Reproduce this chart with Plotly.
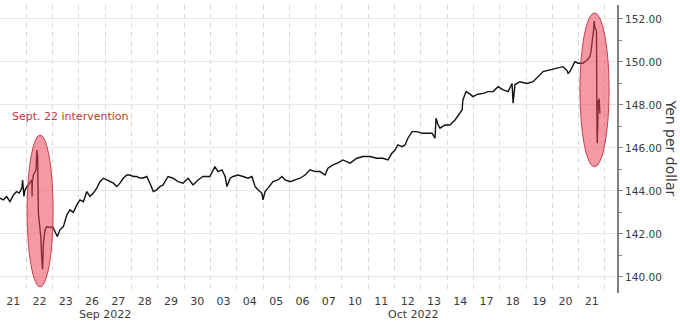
import plotly.graph_objects as go

# ---- data ----
day_labels = ["21", "22", "23", "26", "27", "28", "29", "30", "03", "04", "05", "06",
              "07", "10", "11", "12", "13", "14", "17", "18", "19", "20", "21"]
day_months = ["Sep"] * 8 + ["Oct"] * 15
month_names = {"Sep": "Sep 2022", "Oct": "Oct 2022"}

# time in trading days since start of Sep 21 session
t_days = [0.00, 0.13, 0.25, 0.38, 0.51, 0.63, 0.73, 0.83, 0.86, 0.91, 0.95,
          1.08, 1.21, 1.22, 1.23, 1.27, 1.37, 1.40, 1.43, 1.46, 1.49, 1.55, 1.59,
          1.62, 1.65, 1.71, 1.78, 1.90, 2.00, 2.09, 2.18, 2.28, 2.41, 2.54, 2.66,
          2.79, 2.92, 3.04, 3.17, 3.30, 3.42, 3.55, 3.68, 3.80, 3.93, 4.06, 4.18,
          4.31, 4.44, 4.56, 4.69, 4.82, 4.94, 5.07, 5.20, 5.32, 5.45, 5.58, 5.70,
          5.83, 5.96, 6.08, 6.20, 6.39, 6.58, 6.77, 6.96, 7.15, 7.34, 7.53, 7.72,
          7.98, 8.17, 8.29, 8.44, 8.56, 8.63, 8.75, 8.86, 9.05, 9.24, 9.43, 9.58,
          9.70, 9.81, 9.96, 10.00, 10.08, 10.19, 10.38, 10.57, 10.72, 10.84, 11.03,
          11.22, 11.41, 11.60, 11.79, 11.98, 12.17, 12.36, 12.47, 12.66, 12.85,
          13.04, 13.31, 13.57, 13.80, 14.07, 14.33, 14.56, 14.75, 14.90, 15.02,
          15.13, 15.29, 15.40, 15.51, 15.67, 15.86, 16.05, 16.24, 16.43, 16.54,
          16.58, 16.65, 16.73, 16.92, 17.11, 17.30, 17.41, 17.57, 17.60, 17.72,
          17.87, 17.98, 18.17, 18.37, 18.56, 18.75, 18.94, 19.13, 19.32, 19.47,
          19.51, 19.58, 19.77, 20.04, 20.27, 20.46, 20.65, 20.91, 21.18, 21.41,
          21.56, 21.60, 21.67, 21.79, 21.86, 21.98, 22.17, 22.32, 22.43, 22.47,
          22.51, 22.55, 22.57, 22.59, 22.62, 22.66, 22.68, 22.70, 22.71, 22.73,
          22.74, 22.76, 22.78, 22.81]

usdjpy = [143.66, 143.58, 143.74, 143.50, 143.81, 143.97, 143.90, 144.13, 144.51, 143.74, 144.05,
          144.28, 144.51, 143.74, 144.45, 144.74, 144.98, 145.90, 145.60, 142.96, 142.50, 141.88, 140.79,
          140.35, 141.57, 142.19, 142.34, 142.30, 142.34, 142.10, 141.88, 142.19, 142.34, 142.88, 143.12,
          143.00, 143.35, 143.58, 143.50, 143.97, 143.74, 143.90, 144.13, 144.43, 144.59, 144.51, 144.43,
          144.36, 144.20, 144.36, 144.59, 144.74, 144.74, 144.67, 144.67, 144.60, 144.60, 144.67, 144.36,
          143.97, 144.05, 144.20, 144.28, 144.67, 144.59, 144.43, 144.36, 144.59, 144.28, 144.51, 144.67,
          144.67, 145.13, 144.90, 144.98, 144.67, 144.20, 144.59, 144.67, 144.74, 144.67, 144.59, 144.67,
          144.20, 144.05, 143.89, 143.58, 143.97, 144.13, 144.43, 144.51, 144.67, 144.51, 144.43,
          144.51, 144.59, 144.74, 144.98, 144.90, 144.90, 144.74, 145.06, 145.21, 145.30,
          145.44, 145.29, 145.52, 145.60, 145.60, 145.52, 145.52, 145.44, 145.75, 145.90,
          146.14, 146.06, 146.14, 146.45, 146.76, 146.76, 146.68, 146.68, 146.68, 146.45,
          147.38, 147.10, 146.92, 147.07, 147.07, 147.30, 147.49, 147.77, 148.23, 148.62,
          148.50, 148.39, 148.50, 148.54, 148.62, 148.62, 148.85, 148.70, 148.62, 149.00,
          148.08, 148.95, 149.08, 149.00, 149.08, 149.32, 149.55, 149.63, 149.70, 149.78,
          149.60, 149.47, 149.55, 149.80, 150.01, 149.94, 149.94, 150.09, 150.25, 150.48,
          150.87, 151.18, 151.49, 151.90, 151.60, 151.50, 151.40, 146.68, 146.22, 147.20,
          148.23, 147.77, 148.30, 147.60]

y_ticks = [140, 142, 144, 146, 148, 150, 152]
annotation_text = "Sept. 22 intervention"
y_title = "Yen per dollar"

# highlighted episodes: (start day, end day, low, high)
highlights = [(1.03, 2.02, 139.53, 146.60), (22.05, 23.16, 145.12, 152.28)]

# ---- figure ----
FONT = "DejaVu Sans"
TXT = "#3a3a3a"
x_max = 23.46

fig = go.Figure()
fig.add_trace(go.Scatter(x=t_days, y=usdjpy, mode="lines",
                         line=dict(color="#111111", width=1.4), showlegend=False,
                         hoverinfo="skip"))

for (x0, x1, y0, y1) in highlights:
    fig.add_shape(type="circle", xref="x", yref="y", x0=x0, x1=x1, y0=y0, y1=y1,
                  fillcolor="rgba(236,70,90,0.55)", line=dict(color="#c8404e", width=1),
                  layer="above")

fig.add_annotation(x=0.38, y=147.44, xref="x", yref="y", text=annotation_text,
                   showarrow=False, xanchor="left", yanchor="middle",
                   font=dict(family=FONT, size=11, color="#c0393b"))

# month labels centered on each month's span of days
months_seen = []
for m in day_months:
    if m not in months_seen:
        months_seen.append(m)
for m in months_seen:
    idx = [i for i, mm in enumerate(day_months) if mm == m]
    start = idx[0]
    end = idx[-1] + 1
    if m == day_months[-1]:
        end = x_max
    fig.add_annotation(x=(start + end) / 2, y=-0.075, xref="x", yref="paper",
                       text=month_names[m], showarrow=False, xanchor="center",
                       yanchor="middle", font=dict(family=FONT, size=11, color=TXT))

fig.add_annotation(x=1.0875, y=0.502, xref="paper", yref="paper", text=y_title,
                   showarrow=False, textangle=90, xanchor="center", yanchor="middle",
                   font=dict(family=FONT, size=14, color=TXT))

fig.update_layout(
    width=680, height=323,
    margin=dict(l=0, r=63, t=5, b=30),
    paper_bgcolor="white", plot_bgcolor="white",
    font=dict(family=FONT, size=11, color=TXT),
    xaxis=dict(range=[0, x_max], tickmode="array",
               tickvals=[i + 0.5 for i in range(len(day_labels))],
               ticktext=day_labels, showgrid=False, zeroline=False, ticks="",
               showline=False, tickfont=dict(family=FONT, size=11, color=TXT),
               minor=dict(tick0=0, dtick=1, showgrid=True, gridcolor="#d9d9d9",
                          gridwidth=1, griddash="5px,4px", ticks="")),
    yaxis=dict(side="right", range=[139.25, 152.65], tickmode="array",
               tickvals=y_ticks, ticktext=["%.2f" % v for v in y_ticks],
               showgrid=True, gridcolor="#e8e8e8", gridwidth=1, zeroline=False,
               showline=True, linecolor="#7f7f7f", linewidth=2,
               ticks="outside", ticklen=4, tickcolor="#7f7f7f", tickwidth=1,
               tickfont=dict(family=FONT, size=10.5, color=TXT),
               minor=dict(tick0=139, dtick=1, ticks="outside", ticklen=3,
                          tickcolor="#7f7f7f", showgrid=False)),
)

fig.write_html("out.html")
